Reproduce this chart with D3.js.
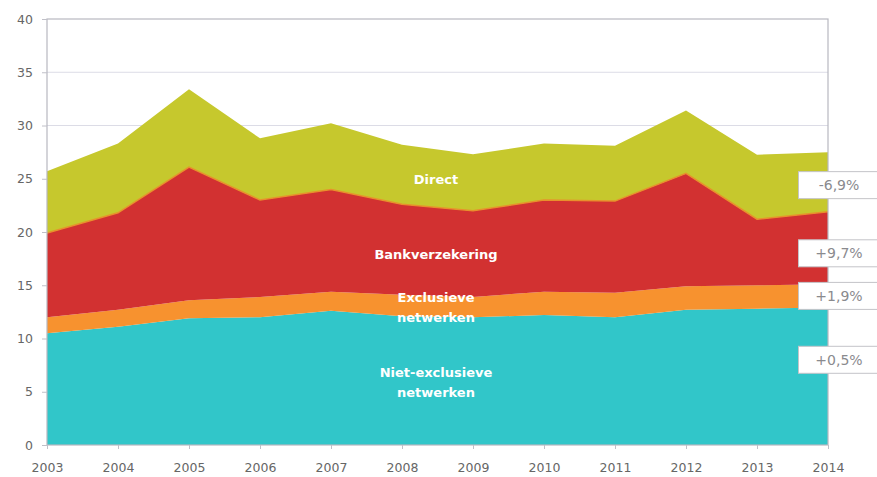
<!DOCTYPE html>
<html>
<head>
<meta charset="utf-8">
<script src="https://cdn.jsdelivr.net/npm/d3@7"></script>
<style>
  html, body { margin: 0; padding: 0; background: #fff; }
  svg { display: block; }
</style>
</head>
<body>
<svg id="chart" width="877" height="477"></svg>
<script>
// Premium volume per distribution channel (stacked), 2003-2014
const years = [2003, 2004, 2005, 2006, 2007, 2008, 2009, 2010, 2011, 2012, 2013, 2014];
const nietExclusieve = [10.5, 11.1, 11.9, 12.0, 12.6, 12.1, 12.0, 12.2, 12.0, 12.7, 12.8, 12.9];
const exclusieve     = [1.5, 1.6, 1.7, 1.9, 1.8, 2.0, 1.9, 2.2, 2.3, 2.2, 2.2, 2.2];
const bank           = [7.9, 9.1, 12.5, 9.1, 9.6, 8.5, 8.1, 8.6, 8.6, 10.6, 6.2, 6.8];
const direct         = [5.8, 6.5, 7.3, 5.8, 6.2, 5.6, 5.3, 5.3, 5.2, 5.9, 6.05, 5.6];
const yTicks = [0, 5, 10, 15, 20, 25, 30, 35, 40];
const seriesKeys = ["niet", "excl", "bank", "direct"];
const seriesColors = ["#31c6c9", "#f7922f", "#d23131", "#c6c82d"];
const changeLabels = ["+0,5%", "+1,9%", "+9,7%", "-6,9%"];

const rows = years.map((y, i) => ({
  year: y, niet: nietExclusieve[i], excl: exclusieve[i], bank: bank[i], direct: direct[i]
}));

const svg = d3.select("#chart");
const margin = { left: 47, right: 49, top: 19, bottom: 32 };
const W = 877, H = 477;

const x = d3.scaleLinear().domain([years[0], years[years.length - 1]]).range([margin.left, W - margin.right]);
const y = d3.scaleLinear().domain([0, 40]).range([H - margin.bottom, margin.top]);

// horizontal grid
svg.append("g").selectAll("line").data(yTicks.filter(t => t > 0 && t < 40)).join("line")
  .attr("x1", x.range()[0]).attr("x2", x.range()[1])
  .attr("y1", d => y(d)).attr("y2", d => y(d))
  .attr("stroke", "#dcdce6").attr("stroke-width", 1);

// stacked areas
const stack = d3.stack().keys(seriesKeys);
const layers = stack(rows);
const area = d3.area()
  .x(d => x(d.data.year))
  .y0(d => y(d[0]))
  .y1(d => y(d[1]));

svg.append("g").selectAll("path").data(layers).join("path")
  .attr("d", area)
  .attr("fill", (d, i) => seriesColors[i]);

// thin orange seam between bank and direct layers
const seam = d3.line().x(d => x(d.data.year)).y(d => y(d[1]));
svg.append("path").datum(layers[2]).attr("d", seam)
  .attr("fill", "none").attr("stroke", "#e8902c").attr("stroke-width", 1.5);

// plot frame
svg.append("rect")
  .attr("x", x.range()[0]).attr("y", y(40))
  .attr("width", x.range()[1] - x.range()[0]).attr("height", y(0) - y(40))
  .attr("fill", "none").attr("stroke", "#b8b8c0").attr("stroke-width", 1.2);

// axes
const yAxis = d3.axisLeft(y).tickValues(yTicks).tickSize(5).tickPadding(9);
const gy = svg.append("g").attr("transform", `translate(${margin.left},0)`).call(yAxis);
gy.select(".domain").remove();
gy.selectAll(".tick line").attr("stroke", "#c0c0c8");
gy.selectAll("text").attr("fill", "#666").style("font-family", "DejaVu Sans, Verdana, sans-serif").style("font-size", "12.5px");

const xAxis = d3.axisBottom(x).tickValues(years).tickFormat(d3.format("d")).tickSize(4).tickPadding(14);
const gx = svg.append("g").attr("transform", `translate(0,${y(0)})`).call(xAxis);
gx.select(".domain").remove();
gx.selectAll(".tick line").attr("stroke", "#c0c0c8");
gx.selectAll("text").attr("fill", "#666").style("font-family", "DejaVu Sans, Verdana, sans-serif").style("font-size", "12.5px");

// in-area series labels
const areaLabels = [
  { lines: ["Direct"], year: 2009, v: 24.9 },
  { lines: ["Bankverzekering"], year: 2009, v: 17.9 },
  { lines: ["Exclusieve", "netwerken"], year: 2009, v: 12.9 },
  { lines: ["Niet-exclusieve", "netwerken"], year: 2009, v: 5.85 }
];
const lg = svg.append("g")
  .style("font-family", "DejaVu Sans, Verdana, sans-serif")
  .style("font-size", "13px").style("font-weight", "bold")
  .attr("fill", "#fff").attr("text-anchor", "middle");
areaLabels.forEach(l => {
  const cx = x(l.year) - 37;
  const n = l.lines.length;
  l.lines.forEach((t, k) => {
    lg.append("text").attr("x", cx)
      .attr("y", y(l.v) + (k - (n - 1) / 2) * 20)
      .attr("dy", "0.35em").text(t);
  });
});

// year-on-year change boxes at the right edge
const boxY = [8.0, 14.0, 18.0, 24.4];
const bg = svg.append("g");
changeLabels.forEach((t, i) => {
  const cy = y(boxY[i]);
  bg.append("rect").attr("x", 798.5).attr("y", cy - 13.5).attr("width", 80).attr("height", 27)
    .attr("fill", "#fff").attr("stroke", "#c4c4c8").attr("stroke-width", 1);
  bg.append("text").attr("x", 839).attr("y", cy).attr("dy", "0.36em")
    .attr("text-anchor", "middle").attr("fill", "#8a8a8e")
    .style("font-family", "DejaVu Sans, Verdana, sans-serif").style("font-size", "14px")
    .text(t);
});
</script>
</body>
</html>
